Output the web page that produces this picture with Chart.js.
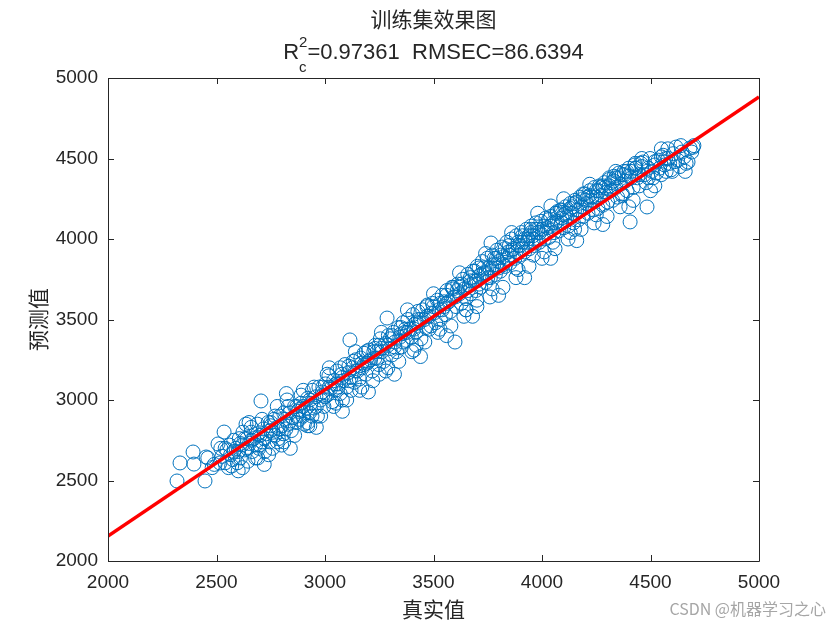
<!DOCTYPE html>
<html>
<head>
<meta charset="utf-8">
<script src="https://cdn.jsdelivr.net/npm/chart.js@4.4.0/dist/chart.umd.min.js"></script>
<style>
  body { margin: 0; background: #fff; }
</style>
</head>
<body>
<canvas id="fitChart" width="840" height="630"></canvas>
<script>
// Training set: true values (x) vs predicted values (y)
var trueVals = [
    2318,2332,2392,2396,2447,2452,2460,2480,2490,2507,2516,2520,2525,2535,2540,2548,2555,2560,2565,2575,2580,2590,2596,2600,2605,2610,
    2618,2622,2630,2636,2640,2645,2652,2660,2665,2672,2680,2688,2695,2700,2705,2710,2716,2722,2730,2738,2745,2750,2758,2765,2770,2778,2785,2792,2800,2808,2815,2822,2825,2830,2838,2845,2852,2860,2868,2875,2882,2890,2898,2905,2912,2920,2928,2935,2942,2950,2958,2965,2972,2980,2988,2995,
    3002,3010,3018,3025,3032,3040,3048,3055,3062,3070,3078,3085,3092,3100,3108,3115,3120,3128,3135,3142,3150,3158,3165,3172,3180,3188,3195,3202,3210,3218,3225,3232,3240,3248,3255,3262,3270,3278,3286,3292,3300,3308,3315,3322,3330,3338,3345,3352,3360,3368,3375,3382,3390,3398,3405,3412,3420,3428,3435,3442,3450,3458,3465,3472,3480,3488,3495,
    3502,3510,3518,3525,3532,3540,3548,3555,3562,3570,3578,3585,3592,3599,3605,3612,3620,3628,3635,3642,3650,3658,3665,3672,3680,3688,3695,3702,3710,3718,3725,3732,3740,3748,3755,3762,3765,3770,3778,3785,3792,3800,3808,3815,3822,3830,3838,3845,3852,3860,3868,3875,3882,3890,3898,3905,3912,3920,3928,3935,3942,3950,3958,3965,3972,3980,3988,3995,
    4002,4010,4018,4025,4032,4041,4048,4055,4062,4070,4078,4085,4092,4100,4108,4115,4122,4130,4138,4145,4152,4160,4168,4175,4182,4190,4198,4205,4212,4220,4228,4235,4242,4250,4258,4265,4272,4280,4288,4295,4302,4310,4318,4325,4332,4340,4348,4355,4362,4370,4378,4385,4392,4400,4406,4412,4420,4428,4433,4440,4448,4455,4465,4472,4480,4484,4490,4498,
    4505,4512,4520,4528,4535,4542,4550,4558,4565,4572,4580,4588,4595,4605,4618,4625,4635,4645,4655,4664,4673,4682,4690,4696,4700,
    2640,2700,2760,2820,2880,2940,3000,3060,3120,3180,3240,3300,3360,3420,3480,3540,3560,3600,3620,3660,3700,3720,3750,3780,3800,3820,3850,3880,3900,3920,3940,3960,3990,4020,4040,4060,4090,4110,4140,4170,4200,4230,4260,4290,4320,4350,4380,4410,3650,3700,3880,3960,4050,4150,3420,3250,3080,2920,2780,
    2620,2650,2680,2710,2740,2770,2800,2830,2860,2890,2920,2950,2980,3010,3040,3070,3100,3130,3160,3190,3220,3250,3280,3310,3340,3370,3400,3430,3460,3490,3520,3550,3580,3610,3640,3670,3700,3730,3760,3790,3820,3850,3880,3910,3940,3970,4000,4030,4060,4090,4120,4150,4180,4210,4240,4270,4300,4330,4360,4390,4420,4450,4500,4550,4600,4640,4660,
    2580,2610,2660,2690,2720,2750,2790,2810,2840,2870,2900,2930,2960,2990,3020,3050,3080,3110,3140,3170,3200,3230,3260,3290,3320,3350,3380,3410,3440,3470,3500,3530,3560,3590,3630,3670,3690,3710,3740,3770,3790,3810,3840,3860,3890,3910,3930,3950,3980,4010,4040,4070,4100,4130,4160,4190,4220,4250,4280,4310,4340,4370,4400,4430,4460,4520,4570,
    2540,2600,2660,2720,2780,2840,2900,2960,3020,3080,3140,3200,3260,3320,3380,3440,3500,3560,3620,3680,3740,3800,3860,3920,3980,4040,4100,4160,4220,4280,4340,4400,4460,4520,4580,
    2570,2630,2690,2750,2810,2870,2930,2990,3050,3110,3170,3230,3290,3350,3410,3470,3530,3590,3650,3710,3770,3830,3890,3950,4010,4070,4130,4190,4250,4310,4370,4430,4490,4550,4610
];
var predVals = [
    2497,2609,2677,2602,2497,2646,2640,2580,2600,2727,2609,2700,2650,2801,2610,2690,2580,2720,2660,2630,2750,2700,2610,2680,2760,2640,
    2720,2800,2690,2850,2760,2620,2730,2800,2680,2760,2720,2850,2700,2780,2994,2740,2820,2680,2790,2860,2740,2810,2700,2880,2780,2830,2760,2900,2840,2790,2880,3040,3000,2850,2920,2810,2890,2960,2860,2930,2880,2980,2900,2850,2950,3010,2920,2980,3060,2950,3020,2900,3080,3000,3050,2960,
    3100,3030,3150,3070,2990,3120,3060,3180,3100,3040,3160,3120,3220,3080,3170,3373,3140,3200,3110,3250,3180,3130,3260,3200,3290,3160,3230,3310,3250,3180,3300,3340,3260,3220,3380,3300,3240,3350,3509,3400,3320,3280,3420,3360,3300,3450,3390,3330,3480,3420,3370,3500,3440,3390,3530,3470,3420,3550,3480,3380,3560,3500,3450,3590,3520,3460,3600,
    3540,3480,3620,3560,3500,3650,3580,3530,3680,3610,3550,3700,3640,3360,3580,3720,3660,3600,3750,3690,3630,3780,3710,3660,3800,3740,3680,3830,3770,3700,3860,3790,3730,3880,3820,3760,3975,3900,3840,3780,3930,3860,3800,3950,3890,3830,3980,3920,3850,4000,3940,3880,4020,3960,3900,4040,3980,3920,4060,4000,3940,4080,4020,3960,4100,4040,3980,4110,
    4060,4000,4130,4070,4010,4205,4100,4040,4160,4110,4050,4180,4130,4070,4200,4140,4080,4220,4160,4100,4240,4180,4120,4260,4200,4140,4280,4220,4160,4300,4240,4180,4320,4260,4190,4330,4270,4210,4350,4290,4230,4370,4300,4240,4390,4320,4260,4410,4340,4280,4420,4360,4300,4440,4106,4380,4320,4460,4441,4380,4330,4470,4478,4400,4350,4199,4440,4500,
    4420,4380,4460,4410,4490,4440,4400,4520,4460,4420,4500,4470,4430,4530,4571,4490,4450,4540,4510,4470,4478,4565,4540,4570,4580,
    2700,2720,2800,2820,2940,2900,3020,3080,3060,3220,3300,3380,3360,3480,3440,3560,3600,3640,3700,3680,3740,3780,3760,3880,3820,3840,3900,3920,3960,4000,4020,4000,4040,4040,4080,4100,4100,4160,4200,4180,4240,4260,4300,4320,4350,4380,4400,4420,3560,3620,3820,3900,3980,4060,3340,3160,3000,2860,2740,
    2580,2860,2640,2880,2660,2900,2720,2960,2780,3030,2840,3080,2900,3160,2960,3200,3000,3240,3060,3300,3120,3340,3180,3400,3240,3440,3300,3500,3360,3540,3420,3610,3460,3680,3520,3740,3580,3820,3640,3880,3700,3960,3760,4020,3830,4060,3880,4120,3940,4180,4000,4220,4060,4260,4100,4320,4140,4360,4200,4420,4240,4400,4300,4560,4420,4580,4420,
    2680,2730,2750,2790,2760,2840,2820,2920,2870,2900,2960,3000,2960,3030,3080,3100,3140,3120,3180,3230,3240,3260,3320,3340,3330,3410,3420,3440,3500,3520,3580,3600,3650,3690,3720,3760,3800,3720,3790,3820,3840,3900,3880,3930,3980,3940,3980,4040,4060,4080,4140,4160,4150,4190,4230,4250,4270,4300,4330,4330,4380,4400,4390,4440,4450,4480,4500,
    2700,2560,2830,2600,2960,2700,3060,2830,3200,2930,3300,3050,3420,3160,3560,3270,3660,3400,3790,3520,3910,3650,4040,3760,4160,3880,4250,3990,4340,4090,4420,4200,4500,4330,4560,
    2590,2760,2640,2860,2740,2960,2840,3080,2980,3210,3080,3320,3200,3450,3310,3580,3440,3700,3560,3820,3690,3940,3810,4060,3920,4170,4040,4280,4150,4380,4270,4470,4380,4510,4480
];

// Fitted line end points
var fitX = [2000, 5000];
var fitY = [2155, 4882];

var axisTicks = [2000, 2500, 3000, 3500, 4000, 4500, 5000];

var chartTitle = '训练集效果图';
var statsText = '=0.97361  RMSEC=86.6394';
var xTitle = '真实值';
var yTitle = '预测值';
var watermark = 'CSDN @机器学习之心';

var ink = '#262626';
var latin = '"Liberation Sans", Arial, sans-serif';
var cjk = '"Noto Sans CJK SC", "Liberation Sans", sans-serif';

var scatterPts = [];
for (var i = 0; i < Math.min(trueVals.length, predVals.length); i++) {
    scatterPts.push({ x: trueVals[i], y: predVals[i] });
}
var fitPts = fitX.map(function (v, i) { return { x: v, y: fitY[i] }; });

// Box with inward ticks, titles and watermark (matlab look)
var decoPlugin = {
    id: 'deco',
    afterDraw: function (chart) {
        var ctx = chart.ctx;
        var a = chart.chartArea;
        var xs = chart.scales.x, ys = chart.scales.y;
        ctx.save();
        ctx.strokeStyle = ink;
        ctx.lineWidth = 1;
        ctx.beginPath();
        ctx.rect(Math.round(a.left) + 0.5, Math.round(a.top) + 0.5,
                 Math.round(a.right - a.left), Math.round(a.bottom - a.top));
        axisTicks.forEach(function (t) {
            var px = Math.round(xs.getPixelForValue(t)) + 0.5;
            ctx.moveTo(px, a.bottom); ctx.lineTo(px, a.bottom - 6);
            ctx.moveTo(px, a.top); ctx.lineTo(px, a.top + 6);
            var py = Math.round(ys.getPixelForValue(t)) + 0.5;
            ctx.moveTo(a.left, py); ctx.lineTo(a.left + 6, py);
            ctx.moveTo(a.right, py); ctx.lineTo(a.right - 6, py);
        });
        ctx.stroke();

        var cx = (a.left + a.right) / 2;
        ctx.fillStyle = ink;
        ctx.textBaseline = 'middle';
        ctx.textAlign = 'center';
        ctx.font = '21px ' + cjk;
        ctx.fillText(chartTitle, cx, 19);

        // R_c^2 line
        ctx.textBaseline = 'alphabetic';
        ctx.textAlign = 'left';
        ctx.font = '22px ' + latin;
        var wR = ctx.measureText('R').width;
        var wRest = ctx.measureText(statsText).width;
        ctx.font = '15px ' + latin;
        var wSub = Math.max(ctx.measureText('2').width, ctx.measureText('c').width);
        var x0 = cx - (wR + wSub + wRest) / 2;
        ctx.font = '22px ' + latin;
        ctx.fillText('R', x0, 59);
        ctx.font = '15px ' + latin;
        ctx.fillText('2', x0 + wR, 47);
        ctx.fillText('c', x0 + wR, 72);
        ctx.font = '22px ' + latin;
        ctx.fillText(statsText, x0 + wR + wSub, 59);

        ctx.textAlign = 'right';
        ctx.textBaseline = 'middle';
        ctx.fillStyle = '#a6a6a6';
        ctx.font = '16px ' + cjk;
        ctx.fillText(watermark, 826, 609);
        ctx.restore();
    }
};

function plainTick(v) { return String(v); }

var ctx = document.getElementById('fitChart').getContext('2d');
var fitChart = new Chart(ctx, {
    type: 'scatter',
    data: {
        datasets: [{
            type: 'line',
            data: fitPts,
            borderColor: '#ff0000',
            borderWidth: 3.5,
            pointRadius: 0,
            fill: false
        }, {
            data: scatterPts,
            pointStyle: 'circle',
            pointRadius: 7,
            borderWidth: 1,
            borderColor: '#0072BD',
            backgroundColor: 'rgba(0,0,0,0)'
        }]
    },
    options: {
        responsive: false,
        animation: false,
        layout: { padding: { top: 78, right: 81, left: 0, bottom: 0 } },
        plugins: {
            legend: { display: false },
            tooltip: { enabled: false },
            title: { display: false }
        },
        scales: {
            x: {
                type: 'linear',
                min: 2000, max: 5000,
                grid: { display: false, drawTicks: false },
                border: { display: false },
                afterBuildTicks: function (s) { s.ticks = axisTicks.map(function (v) { return { value: v }; }); },
                afterFit: function (s) { s.height = 69; },
                ticks: { padding: 10, color: ink, font: { family: latin, size: 19 }, callback: plainTick },
                title: { display: true, text: xTitle, color: ink, padding: { top: 0, bottom: 8 },
                         font: { family: cjk, size: 21 } }
            },
            y: {
                type: 'linear',
                min: 2000, max: 5000,
                grid: { display: false, drawTicks: false },
                border: { display: false },
                afterBuildTicks: function (s) { s.ticks = axisTicks.map(function (v) { return { value: v }; }); },
                afterFit: function (s) { s.width = 108; },
                ticks: { padding: 10, color: ink, font: { family: latin, size: 19 }, callback: plainTick },
                title: { display: true, text: yTitle, color: ink, padding: { top: 25, bottom: 0 },
                         font: { family: cjk, size: 21 } }
            }
        }
    },
    plugins: [decoPlugin]
});
</script>
</body>
</html>
